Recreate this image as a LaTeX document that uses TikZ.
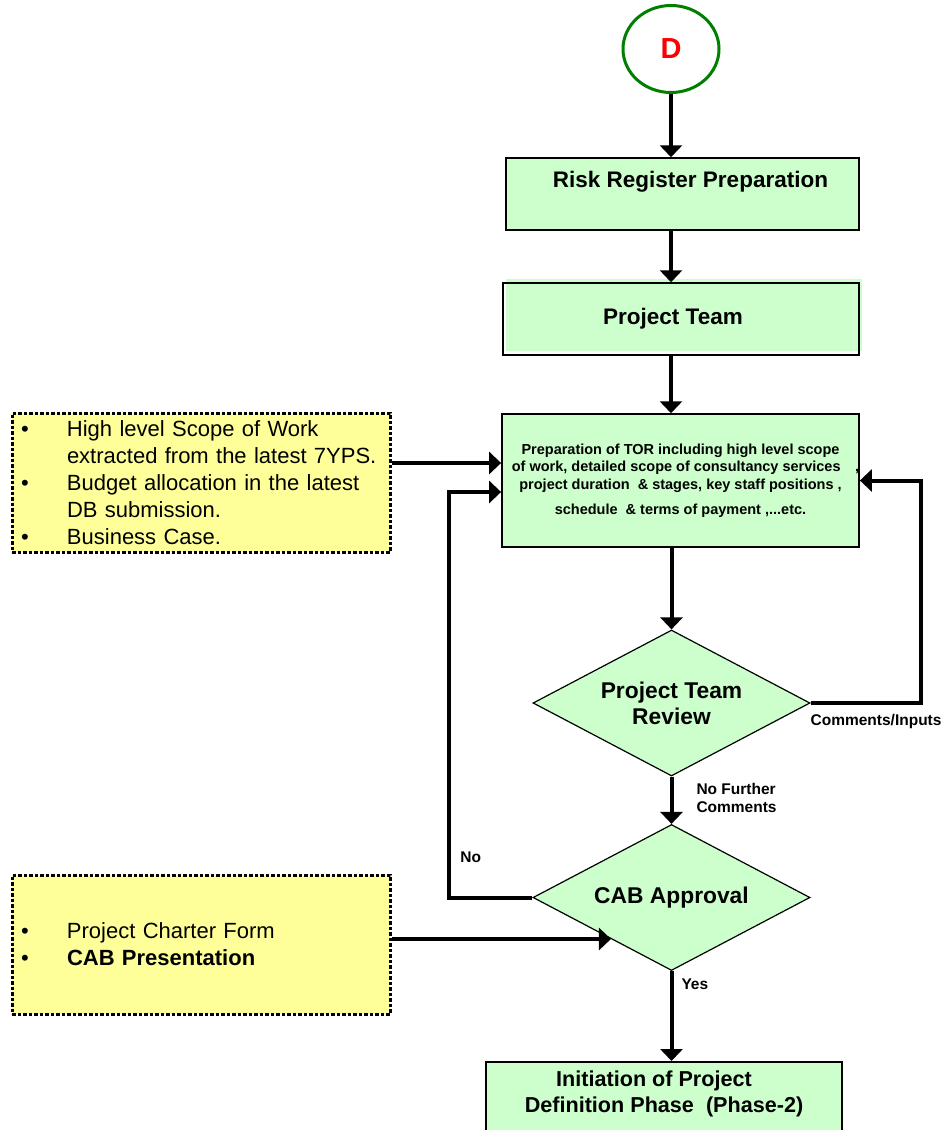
\documentclass[tikz,border=0pt]{standalone}
\usepackage{fontspec}
\setmainfont{Liberation Sans}
\usepackage{xcolor}
\usepackage{tikz}
\usetikzlibrary{shapes.geometric,arrows.meta}
\definecolor{boxgreen}{HTML}{CCFFCC}
\definecolor{noteyellow}{HTML}{FFFF99}
\definecolor{ringgreen}{HTML}{007F00}

\begin{document}
\begin{tikzpicture}[x=1pt,y=-1pt,
    process/.style={draw,line width=1.5pt,fill=boxgreen,minimum width=356pt,minimum height=72pt,
      inner sep=0pt,align=center,font=\bfseries\fontsize{22.5}{26}\selectfont},
    decision/.style={diamond,shape aspect=1.9,draw,line width=1.2pt,fill=boxgreen,minimum width=277pt,
      minimum height=146pt,inner sep=0pt,align=center,font=\bfseries\fontsize{22.8}{26}\selectfont},
    note/.style={draw,line width=3pt,dash pattern=on 3.5pt off 2pt,fill=noteyellow,text width=360pt,
      inner xsep=9pt,minimum height=139pt,align=left,font=\fontsize{22}{27}\selectfont},
    flow/.style={line width=4pt,-{Triangle[length=12pt,width=22pt]}},
    tag/.style={inner sep=0pt,align=left,font=\bfseries\fontsize{15.5}{18}\selectfont}]
    \useasboundingbox (0,0) rectangle (946,1130);

    % main column
    \node [ellipse,draw=ringgreen,line width=3pt,minimum width=96pt,minimum height=87pt,
      text=red,font=\bfseries\fontsize{29}{32}\selectfont] (d) at (671,49) {D};
    \node [process,minimum width=353pt] (risk) at (682.5,194) {\hspace*{16pt}Risk Register Preparation\\[4pt]\mbox{}};
    \node [process,fill=none,preaction={fill=boxgreen,transform canvas={xshift=3pt,yshift=4pt}}]
      (team) at (681,319) {Project Team\hspace*{16pt}};
    \node [process,minimum width=357pt,minimum height=133pt,font=\bfseries\fontsize{14.5}{17.5}\selectfont]
      (tor) at (680.5,480.5) {Preparation of TOR including high level scope\\
      \hspace*{10pt}of work, detailed scope of consultancy services\quad ,\\
      project duration \ \& stages, key staff positions ,\\[8pt]
      schedule \ \& terms of payment ,...etc.};
    \node [decision] (review) at (671.5,703) {Project Team\\Review};
    \node [decision] (cab) at (671.5,897.5) {CAB Approval};
    \node [process,anchor=north,inner ysep=9pt,font=\bfseries\fontsize{21.6}{26}\selectfont] (init) at (664,1061)
      {Initiation of Project\hspace*{20pt}\\Definition Phase \ (Phase-2)\hspace*{18pt}\\[40pt]\mbox{}};

    % inputs
    \node [note] (scope) at (201,482.5) {%
      \makebox[46pt][l]{\textbullet}High level Scope of Work\\
      \hspace*{46pt}extracted from the latest 7YPS.\\
      \makebox[46pt][l]{\textbullet}Budget allocation in the latest\\
      \hspace*{46pt}DB submission.\\
      \makebox[46pt][l]{\textbullet}Business Case.};
    \node [note] (charter) at (201,944.5) {%
      \makebox[46pt][l]{\textbullet}Project Charter Form\\
      \makebox[46pt][l]{\textbullet}\textbf{CAB Presentation}};

    % connectors
    \draw [flow] (d.south) -- (d.south |- risk.north);
    \draw [flow] (risk.south -| d) -- (d |- team.north);
    \draw [flow] (team.south -| d) -- (d |- tor.north);
    \draw [flow] (tor.south -| review) -- (review.north);
    \draw [flow] (review.east) -- ++(110,0)
      node [tag,pos=0,anchor=north west,xshift=-2pt,yshift=-9pt] {Comments/Inputs} |- (tor.east);
    \draw [flow] (review) -- (cab)
      node [tag,pos=0,anchor=north west,xshift=23pt,yshift=-5pt] {No Further\\Comments};
    \draw [flow] (cab.west) -- ++(-83,0) |- ([yshift=-11.5pt]tor.west)
      node [tag,pos=0.05,anchor=west,xshift=9pt] {No};
    \draw [flow] (cab.south) -- (cab.south |- init.north)
      node [tag,pos=0,anchor=north west,xshift=8pt,yshift=-6pt] {Yes};
    \draw [flow] ([yshift=19.5pt]scope.east) coordinate (s1) -- (s1 -| tor.west);
    \draw [flow,shorten >=-9pt] ([yshift=5.5pt]charter.east) coordinate (c1) -- (c1 -| cab.south west);
\end{tikzpicture}
\end{document}
